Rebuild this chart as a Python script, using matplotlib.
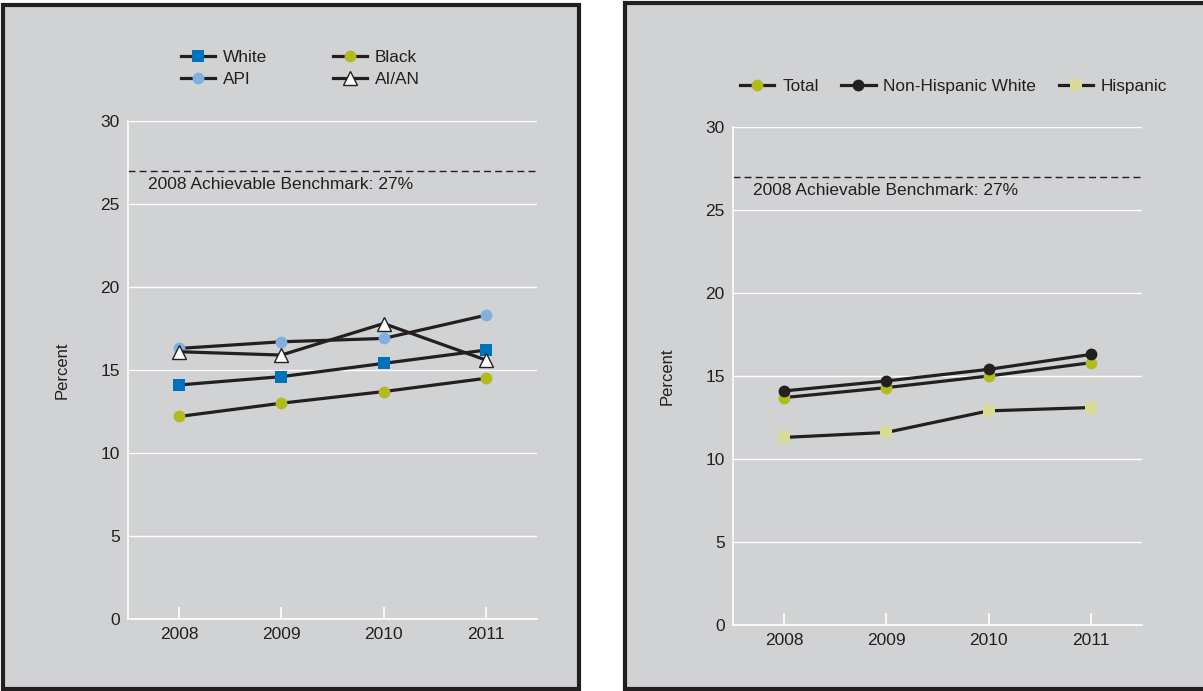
import matplotlib
matplotlib.use('Agg')
import matplotlib.pyplot as plt
from matplotlib.patches import Rectangle
from matplotlib.lines import Line2D

# ==============================================================================
# DADOS
# ==============================================================================
years = [2008, 2009, 2010, 2011]

# painel esquerdo: raça
white = [14.1, 14.6, 15.4, 16.2]
black = [12.2, 13.0, 13.7, 14.5]
api   = [16.3, 16.7, 16.9, 18.3]
aian  = [16.1, 15.9, 17.8, 15.6]

# painel direito: etnia
total    = [13.7, 14.3, 15.0, 15.8]
nhwhite  = [14.1, 14.7, 15.4, 16.3]
hispanic = [11.3, 11.6, 12.9, 13.1]

benchmark = 27
yticks = [0, 5, 10, 15, 20, 25, 30]

BG = '#d1d2d4'
DARK = '#231f20'

plt.rcParams['font.family'] = ['Liberation Sans', 'DejaVu Sans']

fig = plt.figure(figsize=(12.03, 6.91), dpi=100)
fig.patch.set_facecolor('white')

# caixas dos painéis (coordenadas em pixels -> fração)
W, H = 1203, 691
def px_rect(x0, y0, x1, y1):
    return Rectangle((x0 / W, 1 - y1 / H), (x1 - x0) / W, (y1 - y0) / H,
                     transform=fig.transFigure, facecolor=BG, edgecolor=DARK,
                     linewidth=3, zorder=-10)

fig.patches.append(px_rect(3, 5, 579, 689))
fig.patches.append(px_rect(625, 3, 1210, 689))


def style_axes(ax):
    ax.set_facecolor(BG)
    ax.set_xlim(2007.5, 2011.5)
    ax.set_ylim(0, 30)
    ax.set_yticks(yticks)
    ax.set_xticks(years)
    ax.grid(axis='y', color='white', linewidth=1)
    ax.set_axisbelow(True)
    for s in ['top', 'right']:
        ax.spines[s].set_visible(False)
    for s in ['left', 'bottom']:
        ax.spines[s].set_color('white')
        ax.spines[s].set_linewidth(1.2)
    ax.tick_params(axis='x', direction='in', colors='white', labelcolor=DARK,
                   length=9, width=1.2, labelsize=12.5, pad=6)
    ax.tick_params(axis='y', colors='white', labelcolor=DARK, length=0,
                   labelsize=12.5, pad=6)
    ax.set_ylabel('Percent', fontsize=12, color=DARK, labelpad=22)
    ax.axhline(benchmark, color=DARK, linestyle=(0, (5, 3)), linewidth=1)
    ax.text(0.05, 26.2, '2008 Achievable Benchmark: 27%', transform=ax.get_yaxis_transform(),
            fontsize=12.5, color=DARK, ha='left', va='center')


line_kw = dict(color=DARK, linewidth=2.3, markersize=8.5, markeredgewidth=0)
tri_kw = dict(marker='^', color=DARK, linewidth=2.3, markersize=9.5,
              markerfacecolor='white', markeredgecolor=DARK, markeredgewidth=1)
leg_kw = dict(frameon=False, fontsize=12.4, handlelength=2.0, handletextpad=0.45,
              borderpad=0, borderaxespad=0, loc='center left', labelcolor=DARK)

# ==============================================================================
# PAINEL ESQUERDO
# ==============================================================================
ax1 = fig.add_axes([128 / W, 1 - 619 / H, 409 / W, 498 / H])
style_axes(ax1)
ax1.plot(years, white, marker='s', markerfacecolor='#0072bc', **line_kw)
ax1.plot(years, black, marker='o', markerfacecolor='#b1bb1e', **line_kw)
ax1.plot(years, api, marker='o', markerfacecolor='#7fb0e0', **line_kw)
ax1.plot(years, aian, **tri_kw)

h_white = Line2D([], [], marker='s', markerfacecolor='#0072bc', **line_kw)
h_api = Line2D([], [], marker='o', markerfacecolor='#7fb0e0', **line_kw)
h_black = Line2D([], [], marker='o', markerfacecolor='#b1bb1e', **line_kw)
h_aian = Line2D([], [], **tri_kw)
fig.legend([h_white, h_api, h_black, h_aian], ['White', 'API', 'Black', 'AI/AN'],
           ncol=2, columnspacing=3.8, labelspacing=0.42,
           bbox_to_anchor=(181 / W, 1 - 68.5 / H), **leg_kw)

# ==============================================================================
# PAINEL DIREITO
# ==============================================================================
ax2 = fig.add_axes([733 / W, 1 - 625 / H, 409 / W, 498 / H])
style_axes(ax2)
ax2.plot(years, total, marker='o', markerfacecolor='#b1bb1e', **line_kw)
ax2.plot(years, nhwhite, marker='o', markerfacecolor=DARK, **line_kw)
ax2.plot(years, hispanic, marker='s', markerfacecolor='#d8dc98', **line_kw)

h_total = Line2D([], [], marker='o', markerfacecolor='#b1bb1e', **line_kw)
h_nhw = Line2D([], [], marker='o', markerfacecolor=DARK, **line_kw)
h_hisp = Line2D([], [], marker='s', markerfacecolor='#d8dc98', **line_kw)
fig.legend([h_total, h_nhw, h_hisp], ['Total', 'Non-Hispanic White', 'Hispanic'],
           ncol=3, columnspacing=1.3,
           bbox_to_anchor=(740 / W, 1 - 86 / H), **leg_kw)

fig.savefig('out.png', dpi=100, facecolor='white')
